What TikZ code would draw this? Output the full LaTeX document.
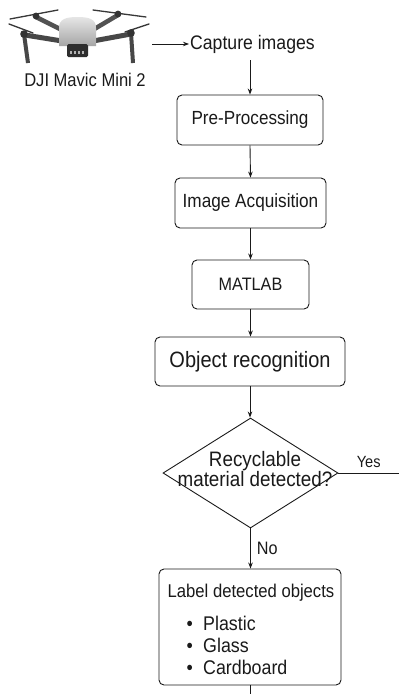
\documentclass[tikz,border=0pt]{standalone}
\usepackage{fontspec}
\setmainfont[FakeStretch=0.9]{Liberation Sans}
\usetikzlibrary{arrows.meta,shapes.geometric}
\definecolor{ink}{HTML}{1A1A1A}
\tikzset{
  line/.style={draw=ink, line width=0.9pt},
  arr/.style={line, -{Stealth[length=6pt,width=4.5pt]}},
  box/.style={line, rounded corners=5pt, inner sep=0pt, text=ink},
  txt/.style={text=ink, inner sep=0pt},
  dark/.style={draw=black!78, line cap=round},
}
\begin{document}
\begin{tikzpicture}[x=1pt,y=-1pt]
\useasboundingbox[fill=white] (0,0) rectangle (399,694);

% ---- drone drawing ----
\draw[dark, line width=1.3pt] (10,19) -- (58,10);
\draw[dark, line width=1.3pt] (93,10) -- (146,17);
\draw[dark, line width=1.3pt] (9,24) -- (33,33);
\draw[dark, line width=1.3pt] (125,32) -- (149,24);
\draw[dark, line width=4.5pt, draw=black!68] (64,31) -- (36,17);
\draw[dark, line width=4.5pt, draw=black!68] (91,31) -- (118,15);
\draw[dark, line width=5pt, draw=black!72] (62,41) -- (25,35);
\draw[dark, line width=5pt, draw=black!72] (93,41) -- (131,34);
\draw[dark, line width=4pt, draw=black!72, line cap=butt] (24,34) -- (28,63);
\draw[dark, line width=4pt, draw=black!72, line cap=butt] (131,33) -- (133,63);
\fill[black!80] (36,16) circle (3.4);
\fill[black!80] (118,14) circle (3.4);
\fill[black!80] (24,34) circle (3.8);
\fill[black!80] (131,33) circle (3.8);
\shade[top color=gray!20, bottom color=gray!70] (59,46) -- (59,28) .. controls (59,19) and (66,17) .. (77.5,17) .. controls (89,17) and (96,19) .. (96,28) -- (96,46) -- cycle;
\fill[black!82, rounded corners=1.5pt] (67,44) rectangle (88,57);
\fill[gray!60] (70,51) rectangle (72,54);
\fill[gray!60] (74,51) rectangle (76,54);
\fill[gray!60] (78,51) rectangle (80,54);
\fill[gray!60] (82,51) rectangle (84,54);
\coordinate (droneR) at (152,44);

% ---- texts and boxes ----
\node[txt, font=\fontsize{18.4}{21}\selectfont] (dji) at (85,80) {DJI Mavic Mini 2};
\node[txt, anchor=west, inner sep=1pt, font=\fontsize{19.6}{22}\selectfont] (cap) at (189,44) {Capture images};
\node[box, minimum width=146pt, minimum height=50pt, font=\fontsize{19}{21}\selectfont] (pp) at (250,120) {Pre-Processing};
\node[box, minimum width=151pt, minimum height=50pt, font=\fontsize{19.1}{21}\selectfont] (ia) at (250.5,203) {Image Acquisition};
\node[box, minimum width=117pt, minimum height=49pt, font=\fontsize{18}{20}\selectfont] (mat) at (250.5,284.5) {MATLAB};
\node[box, minimum width=190pt, minimum height=49pt, font=\fontsize{22.2}{24}\selectfont] (obj) at (250,361.5) {Object recognition};
\node[line, diamond, minimum width=175pt, minimum height=110pt, inner sep=0pt] (dec) at (250.5,473) {};
\node[txt, align=center, font=\fontsize{20.9}{20.5}\selectfont] (dectxt) at (255,469) {Recyclable\\material detected?};
\node[box, minimum width=182pt, minimum height=116pt] (lab) at (250,627) {};
\node[txt, font=\fontsize{18.5}{21}\selectfont] (labt) at (251,593) {Label detected objects};
\node[txt, anchor=west, align=left, font=\fontsize{19.8}{22}\selectfont] (items) at (186.5,645) {\makebox[16.5pt][l]{•}Plastic\\\makebox[16.5pt][l]{•}Glass\\\makebox[16.5pt][l]{•}Cardboard};
\coordinate (yesend) at (399,473);
\coordinate (bottom) at (250,694);

% ---- connectors ----
\draw[arr] (droneR) -- (cap.west);
\draw[arr] ([yshift=-6pt]cap.south -| pp.north) -- (pp.north);
\draw[arr] (pp.south) -- (ia.south |- ia.north);
\draw[arr] (ia.south) -- (ia.south |- mat.north);
\draw[arr] (mat.south) -- (mat.south |- obj.north);
\draw[arr] (obj.south) -- (obj.south |- dec.north);
\draw[line] (dec.east) -- (yesend) node[txt, pos=0.5, above=5pt, font=\fontsize{16.2}{18}\selectfont] (yes) {Yes};
\draw[arr] (dec.south) -- (dec.south |- lab.north) node[txt, pos=0.5, right=6pt, font=\fontsize{18}{20}\selectfont] (no) {No};
\draw[line] (lab.south) -- (lab.south |- bottom);
\end{tikzpicture}
\end{document}
